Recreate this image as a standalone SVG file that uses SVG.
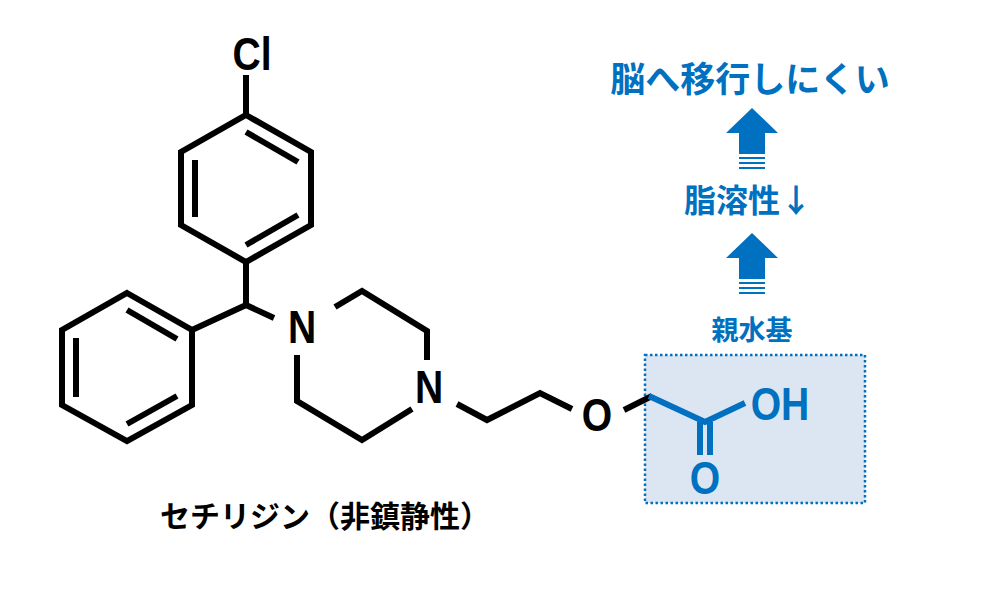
<svg xmlns="http://www.w3.org/2000/svg" width="989" height="592" viewBox="0 0 989 592">
<style>
.b{stroke:#000;stroke-width:6;fill:none;stroke-linejoin:miter;stroke-linecap:butt}
.bl{stroke:#0070c0;stroke-width:6;fill:none}
.at{font-family:"Liberation Sans",Arial,sans-serif;font-weight:bold;font-size:46px;text-anchor:middle}
.jp{font-family:"Noto Sans CJK JP",sans-serif;font-weight:bold;text-anchor:middle}
.blue{fill:#0070c0}
</style>
<rect x="0" y="0" width="989" height="592" fill="#fff"/>
<g id="box"><rect x="645" y="355" width="220" height="148" fill="#dce6f2" stroke="#0070c0" stroke-width="2.5" stroke-dasharray="2.5,2.5"/></g>
<g id="connectors">
<polygon class="b" points="246,115 311,152 311,225 246,262 181,225 181,152"/>
<line class="b" x1="246" y1="132" x2="298" y2="162"/>
<line class="b" x1="195" y1="160" x2="195" y2="217"/>
<line class="b" x1="246" y1="245" x2="298" y2="215"/>
<line class="b" x1="246" y1="115" x2="246" y2="75"/>
<polyline class="b" points="246,262 246,305 192,330"/>
<line class="b" x1="246" y1="305" x2="274" y2="318"/>
<polygon class="b" points="127,293 192,330 192,405 127,441 62,405 62,330"/>
<line class="b" x1="127" y1="310" x2="177" y2="339"/>
<line class="b" x1="76" y1="338" x2="76" y2="397"/>
<line class="b" x1="127" y1="424" x2="177" y2="396"/>
<polyline class="b" points="335,307 362,291 427,331 427,360"/>
<polyline class="b" points="297,355 297,401 362,440 412,409"/>
<polyline class="b" points="457,404 487,420 540,393 572,409"/>
<polyline class="b" points="624,410 652,396"/>
<polyline class="bl" points="649,396 705,422 745,403"/>
<line class="bl" x1="700" y1="422" x2="700" y2="455"/>
<line class="bl" x1="710" y1="422" x2="710" y2="455"/>
</g>
<g id="atoms">
<text class="at" transform="translate(252,70) scale(0.85,1)">Cl</text>
<text class="at" transform="translate(302,343) scale(0.85,1)">N</text>
<text class="at" transform="translate(429,403) scale(0.85,1)">N</text>
<text class="at" transform="translate(597,431) scale(0.85,1)">O</text>
<text class="at blue" transform="translate(780,420) scale(0.85,1)">OH</text>
<text class="at blue" transform="translate(705,494) scale(0.85,1)">O</text>
</g>
<g id="arrows" fill="#0070c0">
<polygon points="752,108 778,133 765,133 765,154 739,154 739,133 726,133"/>
<rect x="739" y="157" width="26" height="2"/><rect x="739" y="162" width="26" height="2"/><rect x="739" y="167" width="26" height="2"/>
<polygon points="752,233 778,258 765,258 765,279 739,279 739,258 726,258"/>
<rect x="739" y="282" width="26" height="2"/><rect x="739" y="287" width="26" height="2"/><rect x="739" y="292" width="26" height="2"/>
</g>
<g id="labels">
<text class="jp blue" x="750" y="92" font-size="35">脳へ移行しにくい</text>
<text class="jp blue" x="748" y="212" font-size="32">脂溶性↓</text>
<text class="jp blue" x="752" y="340" font-size="27">親水基</text>
<text class="jp" x="325" y="527" font-size="30">セチリジン（非鎮静性）</text>
</g>
</svg>
